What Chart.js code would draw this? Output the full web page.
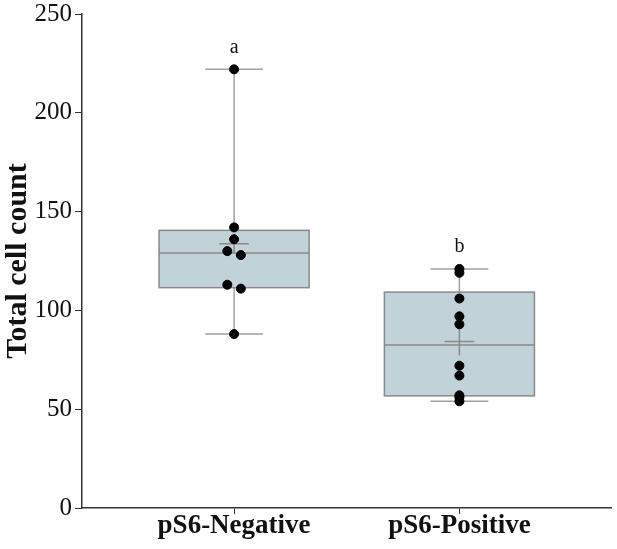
<!DOCTYPE html>
<html>
<head>
<meta charset="utf-8">
<script src="https://cdn.jsdelivr.net/npm/chart.js@4.4.1/dist/chart.umd.min.js"></script>
<style>
  html, body { margin: 0; padding: 0; background: #fff; }
  #wrap { width: 617px; height: 549px; }
</style>
</head>
<body>
<div id="wrap"><canvas id="myChart" width="617" height="549"></canvas></div>
<script>
// groups and raw points
const groups = ['pS6-Negative', 'pS6-Positive'];
const negValues = [222, 142, 136, 130, 128, 113, 111, 88];
const negJitter = [0, 0, 0, -0.03, 0.03, -0.03, 0.03, 0];
const posValues = [121, 119, 106, 97, 93, 72, 67, 57, 56, 54];
const posJitter = [0, 0, 0, 0, 0, 0, 0, 0, 0, 0];

// box summary per group
const q1 = [111.5, 56.75];
const medians = [129, 82.5];
const q3 = [140.5, 109.25];
const whiskerLow = [88, 54];
const whiskerHigh = [222, 121];
const means = [133.75, 84.2];
const meanErr = [5, 7];
const letters = ['a', 'b'];

const yTicks = [0, 50, 100, 150, 200, 250];

const serif = '"Liberation Serif", "Times New Roman", serif';

function toPoints(vals, jit, g) {
    return vals.map((v, i) => ({ x: g + 1 + jit[i], y: v }));
}

const boxPlugin = {
    id: 'boxes',
    beforeDatasetsDraw(chart) {
        const ctx = chart.ctx;
        const xs = chart.scales.x, ys = chart.scales.y;
        ctx.save();
        groups.forEach((g, i) => {
            const cx = xs.getPixelForValue(i + 1);
            const half = xs.getPixelForValue(i + 1 + 0.333) - cx;
            const capHalf = xs.getPixelForValue(i + 1 + 0.128) - cx;
            const meanHalf = xs.getPixelForValue(i + 1 + 0.066) - cx;
            const yq1 = ys.getPixelForValue(q1[i]);
            const yq3 = ys.getPixelForValue(q3[i]);
            const ymed = ys.getPixelForValue(medians[i]);
            const ylo = ys.getPixelForValue(whiskerLow[i]);
            const yhi = ys.getPixelForValue(whiskerHigh[i]);

            // whiskers
            ctx.strokeStyle = '#a0a0a0';
            ctx.lineWidth = 1.5;
            ctx.beginPath();
            ctx.moveTo(cx, yhi); ctx.lineTo(cx, yq3);
            ctx.moveTo(cx, yq1); ctx.lineTo(cx, ylo);
            ctx.moveTo(cx - capHalf, yhi); ctx.lineTo(cx + capHalf, yhi);
            ctx.moveTo(cx - capHalf, ylo); ctx.lineTo(cx + capHalf, ylo);
            ctx.stroke();

            // box
            ctx.fillStyle = '#c2d2d9';
            ctx.fillRect(cx - half, yq3, half * 2, yq1 - yq3);
            ctx.strokeStyle = '#8a8a8a';
            ctx.lineWidth = 1.5;
            ctx.strokeRect(cx - half, yq3, half * 2, yq1 - yq3);
            ctx.beginPath();
            ctx.moveTo(cx - half, ymed); ctx.lineTo(cx + half, ymed);
            ctx.stroke();

            // mean marker
            const ym = ys.getPixelForValue(means[i]);
            ctx.strokeStyle = '#8a8a8a';
            ctx.beginPath();
            ctx.moveTo(cx - meanHalf, ym); ctx.lineTo(cx + meanHalf, ym);
            ctx.moveTo(cx, ys.getPixelForValue(means[i] + meanErr[i]));
            ctx.lineTo(cx, ys.getPixelForValue(means[i] - meanErr[i]));
            ctx.stroke();

            // significance letter
            ctx.fillStyle = '#111';
            ctx.font = '20px ' + serif;
            ctx.textAlign = 'center';
            ctx.textBaseline = 'bottom';
            ctx.fillText(letters[i], cx, yhi - 12);
        });
        ctx.restore();
    }
};

new Chart(document.getElementById('myChart').getContext('2d'), {
    type: 'scatter',
    data: {
        datasets: [
            {
                label: groups[0],
                data: toPoints(negValues, negJitter, 0),
                backgroundColor: '#000',
                borderColor: '#000',
                pointRadius: 4.5
            },
            {
                label: groups[1],
                data: toPoints(posValues, posJitter, 1),
                backgroundColor: '#000',
                borderColor: '#000',
                pointRadius: 4.5
            }
        ]
    },
    options: {
        responsive: false,
        animation: false,
        layout: { padding: { top: 0, right: 0, left: 0, bottom: 0 } },
        plugins: {
            legend: { display: false },
            tooltip: { enabled: false }
        },
        scales: {
            x: {
                type: 'linear',
                min: 0.325,
                max: 2.675,
                afterBuildTicks(scale) { scale.ticks = [{ value: 1 }, { value: 2 }]; },
                afterFit(scale) { scale.height = 41; },
                border: { color: '#333', width: 1.5 },
                grid: { drawOnChartArea: false, tickLength: 6, color: '#333', lineWidth: 1 },
                ticks: {
                    padding: -4,
                    color: '#111',
                    font: { family: serif, size: 27, weight: 'bold' },
                    callback: v => groups[v - 1]
                }
            },
            y: {
                min: 0,
                max: 250,
                afterBuildTicks(scale) { scale.ticks = yTicks.map(v => ({ value: v })); },
                afterFit(scale) { scale.width = 82; },
                border: { color: '#333', width: 1.5 },
                grid: { drawOnChartArea: false, tickLength: 7, color: '#333', lineWidth: 1 },
                ticks: {
                    padding: 3,
                    color: '#111',
                    font: { family: serif, size: 25, lineHeight: 0.88 }
                },
                title: {
                    display: true,
                    text: 'Total cell count',
                    color: '#111',
                    padding: 0,
                    font: { family: serif, size: 30, weight: 'bold' }
                }
            }
        }
    },
    plugins: [boxPlugin]
});
</script>
</body>
</html>
